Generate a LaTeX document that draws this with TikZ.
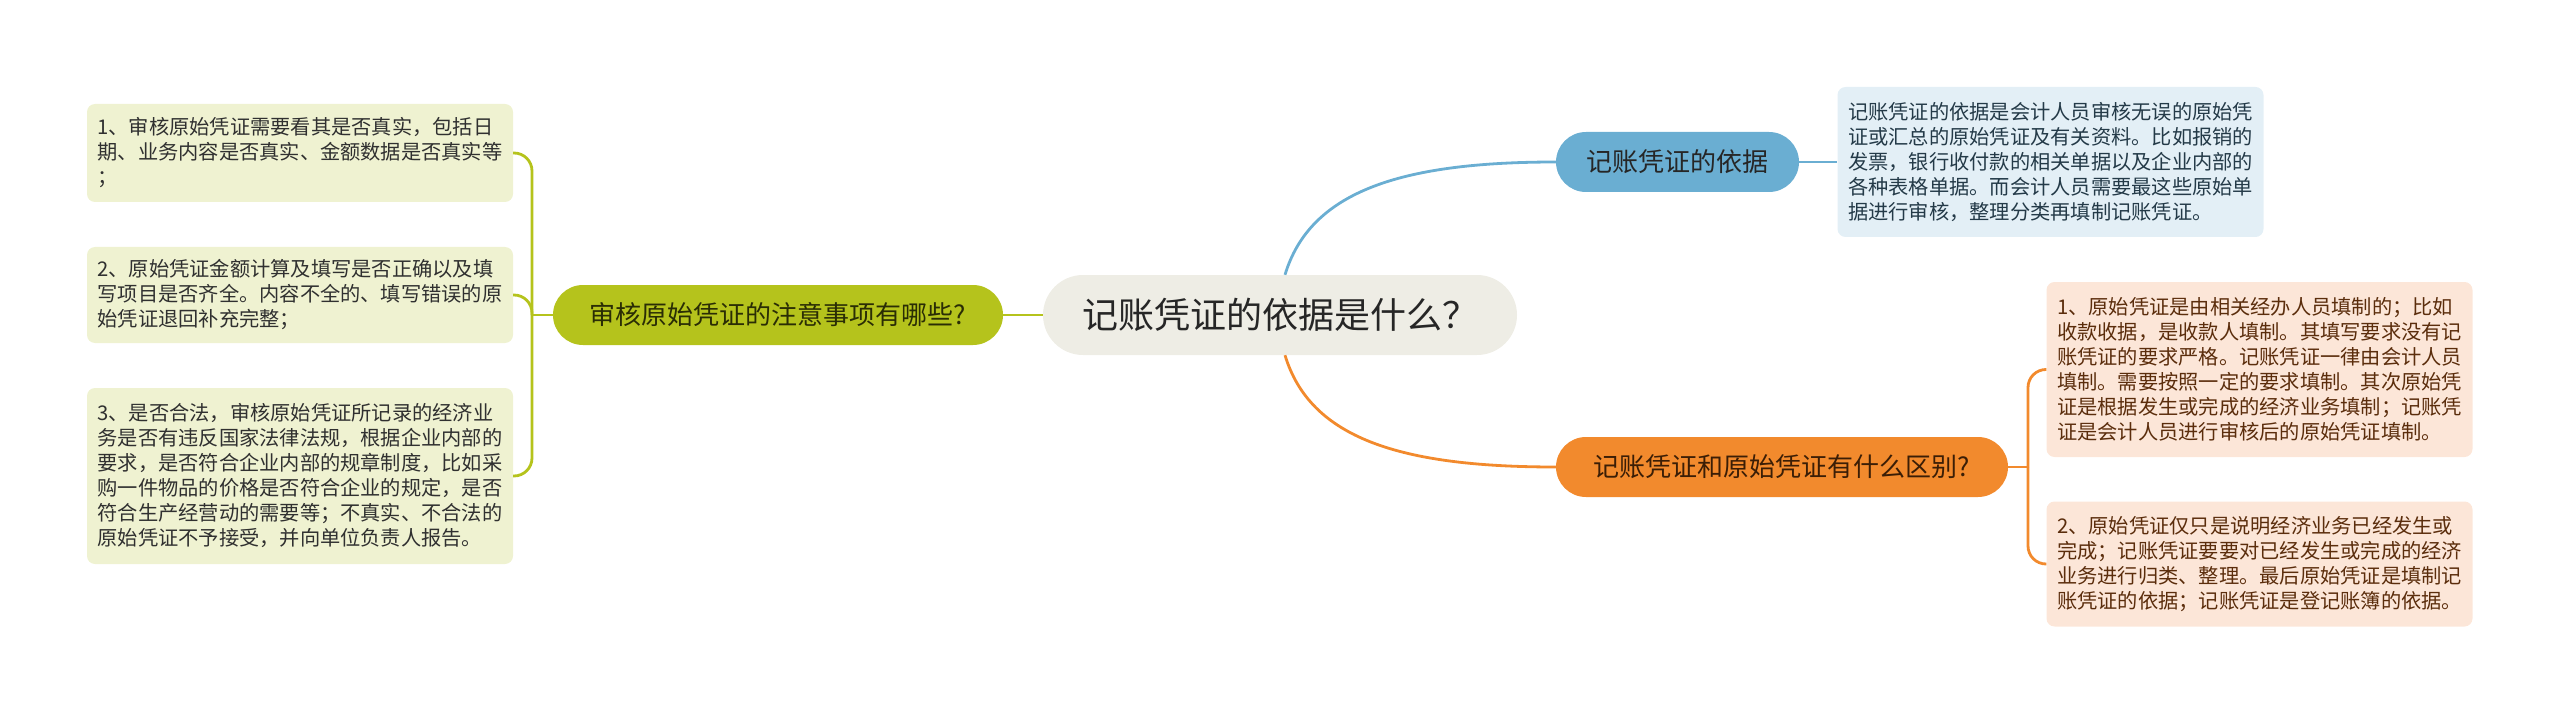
\documentclass[tikz,border=0pt]{standalone}
\usepackage{fontspec}
\setmainfont{Noto Sans CJK SC}

\definecolor{rootfill}{HTML}{EEEDE5}
\definecolor{basisfill}{HTML}{6AAED2}
\definecolor{bnotefill}{HTML}{E3EFF6}
\definecolor{bnotetext}{HTML}{243A48}
\definecolor{difffill}{HTML}{F28A2D}
\definecolor{difftext}{HTML}{3B1E06}
\definecolor{dnotefill}{HTML}{FCE6D8}
\definecolor{dnotetext}{HTML}{5B2D0C}
\definecolor{checkfill}{HTML}{B5C31C}
\definecolor{checktext}{HTML}{2A2D05}
\definecolor{cnotefill}{HTML}{EFF2D1}
\definecolor{cnotetext}{HTML}{303030}

\begin{document}
\begin{tikzpicture}[x=1pt,y=-1pt,
  topic/.style={fill=rootfill, rounded corners=40pt, minimum width=474pt, minimum height=80pt, inner sep=0pt, text=black!85, font=\fontsize{36pt}{40pt}\selectfont},
  branch/.style={rounded corners=30pt, minimum height=60pt, inner sep=0pt, font=\fontsize{26pt}{30pt}\selectfont},
  note/.style={rounded corners=8pt, text width=405pt, inner xsep=10.5pt, inner ysep=0pt, align=left, font=\fontsize{20.25pt}{25pt}\selectfont},
  link/.style={line width=2.8pt}]

\useasboundingbox (0, 0) rectangle (2560, 714);

%main topic
\node[topic] at (1280, 315)(root){记账凭证的依据是什么？};

%branches
\node[branch, fill=basisfill, minimum width=243pt, text=black!85] at (1677.5, 162)(basis){记账凭证的依据};
\node[branch, fill=difffill, minimum width=452pt, text=difftext] at (1782, 467)(diff){记账凭证和原始凭证有什么区别?};
\node[branch, fill=checkfill, minimum width=450pt, text=checktext] at (778, 315)(check){审核原始凭证的注意事项有哪些?};

%notes
\node[note, fill=bnotefill, text=bnotetext, minimum height=150pt] at (2050.5, 162)(bnote){记账凭证的依据是会计人员审核无误的原始凭\\证或汇总的原始凭证及有关资料。比如报销的\\发票，银行收付款的相关单据以及企业内部的\\各种表格单据。而会计人员需要最这些原始单\\据进行审核，整理分类再填制记账凭证。};

\node[note, fill=dnotefill, text=dnotetext, minimum height=175pt] at (2259.5, 369.5)(d1){1、原始凭证是由相关经办人员填制的；比如\\收款收据，是收款人填制。其填写要求没有记\\账凭证的要求严格。记账凭证一律由会计人员\\填制。需要按照一定的要求填制。其次原始凭\\证是根据发生或完成的经济业务填制；记账凭\\证是会计人员进行审核后的原始凭证填制。};
\node[note, fill=dnotefill, text=dnotetext, minimum height=125pt] at (2259.5, 564)(d2){2、原始凭证仅只是说明经济业务已经发生或\\完成；记账凭证要要对已经发生或完成的经济\\业务进行归类、整理。最后原始凭证是填制记\\账凭证的依据；记账凭证是登记账簿的依据。};

\node[note, fill=cnotefill, text=cnotetext, minimum height=98pt] at (300, 153)(c1){1、审核原始凭证需要看其是否真实，包括日\\期、业务内容是否真实、金额数据是否真实等\\；};
\node[note, fill=cnotefill, text=cnotetext, minimum height=96pt] at (300, 295)(c2){2、原始凭证金额计算及填写是否正确以及填\\写项目是否齐全。内容不全的、填写错误的原\\始凭证退回补充完整；};
\node[note, fill=cnotefill, text=cnotetext, minimum height=176pt] at (300, 476)(c3){3、是否合法，审核原始凭证所记录的经济业\\务是否有违反国家法律法规，根据企业内部的\\要求，是否符合企业内部的规章制度，比如采\\购一件物品的价格是否符合企业的规定，是否\\符合生产经营动的需要等；不真实、不合法的\\原始凭证不予接受，并向单位负责人报告。};

%joints
\coordinate (lj) at (532, 315);
\coordinate (rj) at (2028, 467);

%links
\draw[link, basisfill] ([xshift=5pt]root.north) .. controls +(25, -83) and +(-156, 0) .. (basis.west);
\draw[link, basisfill] (basis.east) -- (bnote.west);

\draw[link, difffill] ([xshift=5pt]root.south) .. controls +(25, 83) and +(-156, 0) .. (diff.west);
\draw[link, difffill] (diff.east) -- (rj);
\draw[link, difffill, rounded corners=18pt] (rj) |- (d1.west);
\draw[link, difffill, rounded corners=18pt] (rj) |- (d2.west);

\draw[link, checkfill] (root.west) -- (check.east);
\draw[link, checkfill] (check.west) -- (lj);
\draw[link, checkfill, rounded corners=18pt] (lj) |- (c1.east);
\draw[link, checkfill, rounded corners=18pt] (lj) |- (c2.east);
\draw[link, checkfill, rounded corners=18pt] (lj) |- (c3.east);

\end{tikzpicture}
\end{document}
